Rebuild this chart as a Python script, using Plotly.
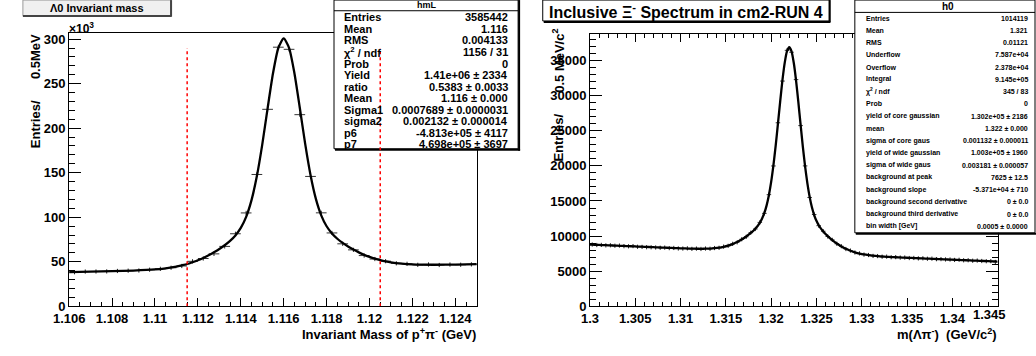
import numpy as np
import plotly.graph_objects as go

W, H = 1036, 356
FONT = "Liberation Sans, Arial, Helvetica, sans-serif"

# ---------------- Lambda0 panel (histogram hmL) ----------------
hml_lo, hml_hi, hml_bin = 1.106, 1.125, 0.0005
# bin contents, in units of 10^3 entries
hml_counts_k = [38.2, 38.9, 39.0, 39.1, 39.6, 39.9, 40.1, 41.0, 42.0, 43.2,
                45.2, 50.4, 53.6, 58.8, 67.2, 81.4, 104.8, 148.0, 221.2, 291.0,
                288.6, 215.2, 145.8, 104.9, 82.3, 70.1, 63.3, 56.9, 53.0, 50.6,
                48.2, 47.6, 46.5, 46.9, 46.3, 46.8, 46.6, 47.0]
# fitted double gaussian + linear background, sampled along the curve
hml_fit_x = [1.106, 1.107, 1.108, 1.109, 1.110, 1.1105, 1.111, 1.11125, 1.1115,
             1.11175, 1.112, 1.11225, 1.1125, 1.11275, 1.113, 1.11325, 1.1135,
             1.11375, 1.114, 1.11425, 1.1145, 1.11475, 1.115, 1.11525, 1.1155,
             1.11575, 1.116, 1.11625, 1.1165, 1.11675, 1.117, 1.11725, 1.1175,
             1.11775, 1.118, 1.11825, 1.1185, 1.11875, 1.119, 1.11925, 1.1195,
             1.11975, 1.120, 1.12025, 1.1205, 1.12075, 1.121, 1.1215, 1.122,
             1.123, 1.124, 1.125]
hml_fit_k = [38.3, 38.8, 39.3, 40.0, 41.3, 42.6, 44.5, 45.9, 47.4,
             49.4, 51.6, 54.2, 57.2, 60.6, 64.3, 68.5, 73.4,
             79.5, 88.0, 100.4, 119.2, 146.2, 181.6, 222.3, 261.4,
             290.1, 300.8, 290.3, 261.8, 223.0, 182.6, 147.4, 120.6,
             102.1, 89.8, 81.7, 75.8, 71.1, 67.1, 63.6, 60.5,
             57.7, 55.4, 53.4, 51.7, 50.3, 49.2, 47.8, 47.0,
             46.6, 46.8, 47.2]
window_edges = [1.1115, 1.1205]
window_top_k = 290

hml_xticks = [1.106, 1.108, 1.110, 1.112, 1.114, 1.116, 1.118, 1.120, 1.122, 1.124]
hml_xtick_text = ["1.106", "1.108", "1.11", "1.112", "1.114", "1.116", "1.118",
                  "1.12", "1.122", "1.124"]
hml_yticks = [0, 50, 100, 150, 200, 250, 300]

hml_stats = [("Entries", "3585442"), ("Mean", "1.116"), ("RMS", "0.004133"),
             ("χ<sup>2</sup> / ndf", "1156 / 31"), ("Prob", "0"),
             ("Yield", "1.41e+06 ± 2334"), ("ratio", "0.5383 ± 0.0033"),
             ("Mean", "1.116 ± 0.000"), ("Sigma1", "0.0007689 ± 0.0000031"),
             ("sigma2", "0.002132 ± 0.000014"), ("p6", "-4.813e+05 ± 4117"),
             ("p7", "4.698e+05 ± 3697")]

# ---------------- Xi- panel (histogram h0) ----------------
h0_lo, h0_hi, h0_bin = 1.300, 1.345, 0.0005
h0_counts = [8810, 8740, 8755, 8690, 8705, 8640, 8660, 8580, 8560, 8590,
             8490, 8470, 8430, 8420, 8390, 8350, 8370, 8300, 8320, 8250,
             8240, 8270, 8190, 8230, 8180, 8240, 8210, 8310, 8340, 8510,
             8620, 8910, 9130, 9560, 9910, 10490, 11020, 11960, 13240, 15900,
             19980, 26120, 32050, 36420, 36150, 32260, 25720, 19990, 15500, 13080,
             11490, 10700, 9950, 9470, 8920, 8570, 8170, 7950, 7680, 7550,
             7380, 7320, 7190, 7170, 7080, 7090, 7010, 7020, 6950, 6960,
             6890, 6900, 6840, 6850, 6790, 6800, 6730, 6740, 6690, 6680,
             6620, 6640, 6570, 6580, 6510, 6530, 6470, 6440, 6450, 6330]
h0_fit_tail_left = [8807, 8793, 8766, 8739, 8713, 8686, 8659, 8632, 8605, 8578,
                    8551, 8525, 8498, 8471, 8444, 8417, 8390, 8364, 8338, 8312,
                    8287, 8263, 8241, 8223, 8211, 8206, 8214, 8238, 8286, 8364,
                    8483, 8649, 8874, 9162, 9518, 9946, 10450, 11061, 11903]
h0_fit_peak_x = [1.31900, 1.31925, 1.31950, 1.31975, 1.32000, 1.32025, 1.32050,
                 1.32075, 1.32100, 1.32125, 1.32150, 1.32175, 1.32200, 1.32225,
                 1.32250, 1.32275, 1.32300, 1.32325, 1.32350, 1.32375, 1.32400,
                 1.32425, 1.32450, 1.32475, 1.32500]
h0_fit_peak = [12503, 13302, 14380, 15826, 17712, 20071, 22869, 25985, 29196,
               32204, 34676, 36299, 36858, 36272, 34622, 32124, 29088, 25851,
               22707, 19883, 17498, 15584, 14112, 13006, 12181]
h0_fit_tail_right = [11554, 10658, 9994, 9436, 8954, 8544, 8202, 7924, 7704, 7532,
                     7400, 7298, 7220, 7158, 7109, 7068, 7033, 7001, 6971, 6942,
                     6914, 6886, 6859, 6833, 6806, 6779, 6752, 6725, 6698, 6671,
                     6645, 6618, 6591, 6564, 6537, 6510, 6483, 6457, 6430, 6403, 6390]

h0_xticks = [1.300, 1.305, 1.310, 1.315, 1.320, 1.325, 1.330, 1.335, 1.340]
h0_xtick_text = ["1.3", "1.305", "1.31", "1.315", "1.32", "1.325", "1.33", "1.335", "1.34"]
h0_yticks = [0, 5000, 10000, 15000, 20000, 25000, 30000, 35000]
h0_ytick_text = ["0", "5000", "10000", "15000", "20000", "25000", "30000", "35000"]

h0_stats = [("Entries", "1014119"), ("Mean", "1.321"), ("RMS", "0.01121"),
            ("Underflow", "7.587e+04"), ("Overflow", "2.378e+04"),
            ("Integral", "9.145e+05"), ("χ<sup>2</sup> / ndf", "345 / 83"),
            ("Prob", "0"), ("yield of core gaussian", "1.302e+05 ± 2186"),
            ("mean", "1.322 ± 0.000"), ("sigma of core gaus", "0.001132 ± 0.000011"),
            ("yield of wide gaussian", "1.003e+05 ± 1960"),
            ("sigma of wide gaus", "0.003181 ± 0.000057"),
            ("background at peak", "7625 ± 12.5"),
            ("background slope", "-5.371e+04 ± 710"),
            ("background second derivative", "0 ± 0.0"),
            ("background third derivative", "0 ± 0.0"),
            ("bin width [GeV]", "0.0005 ± 0.0000")]


def px(x):
    return x / W


def py(y):
    return 1 - y / H


def centers(lo, width, n):
    return lo + width * (np.arange(n) + 0.5)


hml_x = centers(hml_lo, hml_bin, len(hml_counts_k))
h0_x = centers(h0_lo, h0_bin, len(h0_counts))
h0_fit_x = ([h0_lo] + list(h0_x[:38]) + h0_fit_peak_x + list(h0_x[50:]) + [h0_hi])
h0_fit_y = h0_fit_tail_left + h0_fit_peak + h0_fit_tail_right

fig = go.Figure()

point_style = dict(mode="markers",
                   marker=dict(symbol="line-ns", size=3, color="#222",
                               line=dict(width=1, color="#222")),
                   hoverinfo="skip", showlegend=False)

fig.add_trace(go.Scatter(x=hml_x, y=hml_counts_k, xaxis="x", yaxis="y",
                         error_x=dict(type="constant", value=hml_bin / 2, width=0,
                                      thickness=1, color="#333"),
                         **point_style))
fig.add_trace(go.Scatter(x=hml_fit_x, y=hml_fit_k, xaxis="x", yaxis="y", mode="lines",
                         line=dict(color="black", width=2.3, shape="spline", smoothing=0.6),
                         hoverinfo="skip", showlegend=False))

fig.add_trace(go.Scatter(x=h0_x, y=h0_counts, xaxis="x2", yaxis="y2",
                         error_x=dict(type="constant", value=h0_bin / 2, width=0,
                                      thickness=1, color="#333"),
                         **point_style))
fig.add_trace(go.Scatter(x=h0_fit_x, y=h0_fit_y, xaxis="x2", yaxis="y2", mode="lines",
                         line=dict(color="black", width=2.3, shape="spline", smoothing=0.6),
                         hoverinfo="skip", showlegend=False))

tickfont = dict(family=FONT, size=13, color="black", weight="bold")
axis_common = dict(showgrid=False, zeroline=False, showline=True, linecolor="black",
                   linewidth=1, ticks="inside", tickcolor="black", tickwidth=1,
                   tickfont=tickfont, fixedrange=True)

fig.update_layout(
    width=W, height=H, margin=dict(l=0, r=0, t=0, b=0),
    paper_bgcolor="white", plot_bgcolor="white",
    xaxis=dict(domain=[px(54), px(468)], range=[hml_lo, hml_hi], anchor="y",
               tickvals=hml_xticks, ticktext=hml_xtick_text, ticklen=8, mirror=True,
               minor=dict(ticks="inside", dtick=hml_bin, tick0=hml_lo, ticklen=4,
                          tickcolor="black", tickwidth=1),
               **axis_common),
    yaxis=dict(domain=[py(313), py(32.3)], range=[0, 306.5], anchor="x",
               tickvals=hml_yticks, ticklen=12, mirror=True,
               minor=dict(ticks="inside", dtick=10, tick0=0, ticklen=6,
                          tickcolor="black", tickwidth=1),
               **axis_common),
    xaxis2=dict(domain=[px(583), px(997)], range=[h0_lo, h0_hi], anchor="y2",
                tickvals=h0_xticks, ticktext=h0_xtick_text, ticklen=8, mirror="ticks",
                minor=dict(ticks="inside", dtick=0.001, tick0=h0_lo, ticklen=4,
                           tickcolor="black", tickwidth=1),
                **axis_common),
    yaxis2=dict(domain=[py(313.3), py(33.3)], range=[0, 38690], anchor="x2",
                tickvals=h0_yticks, ticktext=h0_ytick_text, ticklen=12, mirror="ticks",
                minor=dict(ticks="inside", dtick=1000, tick0=0, ticklen=6,
                           tickcolor="black", tickwidth=1),
                **axis_common),
)

shapes = []
ann = []


def rect(x0, y0, x1, y1, fill, line="black", lw=1):
    shapes.append(dict(type="rect", xref="paper", yref="paper", layer="above",
                       x0=px(x0), x1=px(x1), y0=py(y1), y1=py(y0),
                       fillcolor=fill, line=dict(color=line, width=lw)))


def seg(x0, y0, x1, y1, color="black", lw=1):
    shapes.append(dict(type="line", xref="paper", yref="paper", layer="above",
                       x0=px(x0), x1=px(x1), y0=py(y0), y1=py(y1),
                       line=dict(color=color, width=lw)))


def text(x, y, s, size, xanchor="left", angle=0, yanchor="middle", bold=True):
    ann.append(dict(xref="paper", yref="paper", x=px(x), y=py(y), text=s,
                    showarrow=False, xanchor=xanchor, yanchor=yanchor,
                    textangle=angle, borderpad=0,
                    font=dict(family=FONT, size=size, color="black",
                              weight="bold" if bold else "normal")))


# title pave of the Lambda0 panel
rect(7, -2, 157, 14, "#f0f0f0", line="#9a9a9a")
seg(7, 14.5, 158, 14.5, "#444", 2)
seg(157.5, -2, 157.5, 15, "#444", 2)
text(82, 6.5, "Λ0 Invariant mass", 11, xanchor="center")

# stats box of hmL
rect(323, -2, 510, 151, "white")
seg(324, 152, 512, 152, "black", 2)
seg(511, -2, 511, 153, "black", 2)
seg(323, 9, 510, 9)
text(417, 3.5, "hmL", 9, xanchor="center")
for k, (lab, val) in enumerate(hml_stats):
    yy = 15.7 + 11.9 * k
    text(332, yy, lab, 11)
    text(501, yy, val, 11, xanchor="right")

# signal window markers, drawn on top of the stats box
for xe in window_edges:
    shapes.append(dict(type="line", xref="x", yref="y", layer="above",
                       x0=xe, x1=xe, y0=0, y1=window_top_k,
                       line=dict(color="red", width=1.5, dash="dot")))

# title pave of the Xi panel
rect(535, -2, 826, 19.5, "white")
seg(536, 20.5, 827, 20.5, "black", 2)
seg(826.5, -2, 826.5, 21, "black", 2)
text(680.5, 9.5, "Inclusive Ξ<sup>-</sup> Spectrum in cm2-RUN 4", 16, xanchor="center")

# stats box of h0
rect(852, -2, 1035, 237.5, "white")
seg(853, 238.5, 1036, 238.5, "black", 2)
seg(852, 10.7, 1035, 10.7)
text(946.5, 4.5, "h0", 10, xanchor="center")
for k, (lab, val) in enumerate(h0_stats):
    yy = 16.7 + 12.6 * k
    text(862, yy, lab, 7)
    text(1029, yy, val, 7, xanchor="right")

# axis titles (vertical ones written as two words, top-aligned like ROOT)
text(53, 27, "×10<sup>3</sup>", 12)
text(20, 56, "0.5MeV", 13, xanchor="center", angle=-90)
text(20, 126, "Entries/", 13, xanchor="center", angle=-90)
text(468, 342, "Invariant Mass of p<sup>+</sup>π<sup>-</sup> (GeV)", 13, xanchor="right")
text(551, 60, "0.5 MeV/c<sup>2</sup>", 13, xanchor="center", angle=-90)
text(551, 139, "Entries/", 13, xanchor="center", angle=-90)
text(997, 342, "m(Λπ<sup>-</sup>)\u00a0 (GeV/c<sup>2</sup>)", 13, xanchor="right")

# last x label of the Xi panel, pulled inside like the others
ann.append(dict(xref="x2", yref="paper", x=h0_hi, y=py(321.5), text="1.345",
                showarrow=False, xanchor="center", yanchor="middle", xshift=-8,
                font=dict(family=FONT, size=13, color="black", weight="bold")))

fig.update_layout(shapes=shapes, annotations=ann)
fig.write_html("out.html")
